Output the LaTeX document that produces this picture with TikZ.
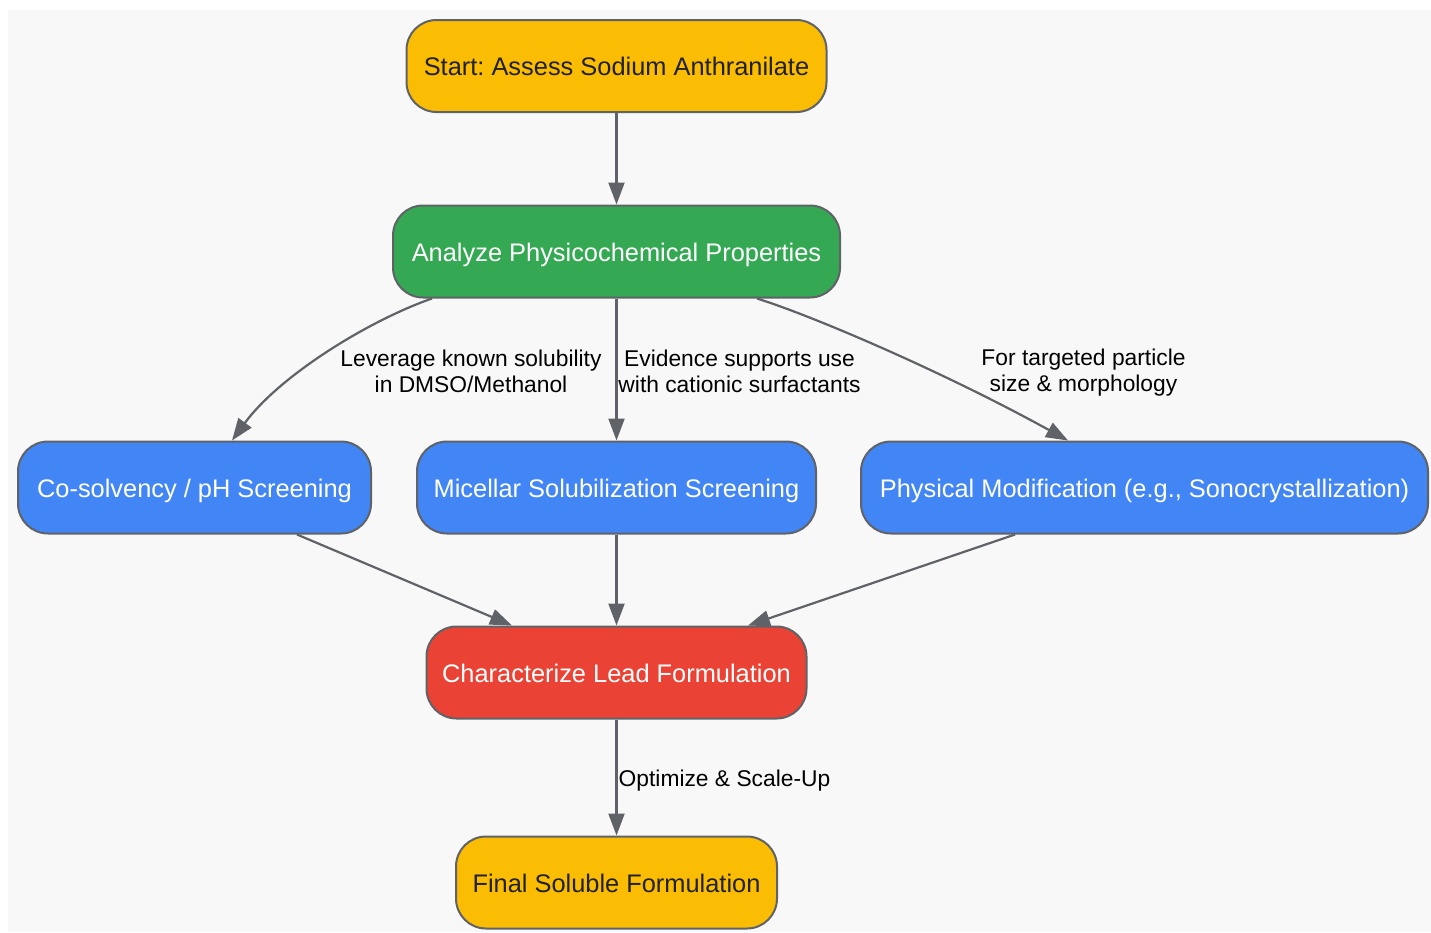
\documentclass[tikz,border=0pt]{standalone}
\usepackage{fontspec}
\setmainfont{Liberation Sans}
\usetikzlibrary{arrows.meta}
\definecolor{bgc}{HTML}{F8F8F8}
\definecolor{edgec}{HTML}{5F6368}
\definecolor{yel}{HTML}{FBBC04}
\definecolor{grn}{HTML}{34A853}
\definecolor{blu}{HTML}{4285F4}
\definecolor{rd}{HTML}{EA4335}
\definecolor{dark}{HTML}{202124}
\frenchspacing
\begin{document}
\begin{tikzpicture}[x=1pt,y=-1pt,
  box/.style={draw=edgec, line width=2pt, rounded corners=30pt, minimum height=92pt, inner sep=0pt, text height=24pt, text depth=5pt, font=\fontsize{25.4}{30}\selectfont},
  ybox/.style={box, fill=yel, text=dark},
  gbox/.style={box, fill=grn, text=white},
  bbox/.style={box, fill=blu, text=white},
  rbox/.style={box, fill=rd, text=white},
  arr/.style={draw=edgec, line width=2.2pt, -{Triangle[length=22pt,width=16pt]}},
  lbl/.style={align=center, text=black, inner sep=0pt, font=\fontsize{22.8}{26}\selectfont}
]
\useasboundingbox (0,0) rectangle (1431,932);
\fill[bgc] (8,10) rectangle (1431,932);

\node[ybox, minimum width=420pt] (start) at (616.5,66) {Start: Assess Sodium Anthranilate};
\node[gbox, minimum width=447pt] (analyze) at (616.5,251.5) {Analyze Physicochemical Properties};
\node[bbox, minimum width=353pt] (cosolv) at (194.5,487.5) {Co-solvency / pH Screening};
\node[bbox, minimum width=399pt] (micellar) at (616.5,487.5) {Micellar Solubilization Screening};
\node[bbox, minimum width=567pt] (phys) at (1144.5,487.5) {Physical Modification (e.g., Sonocrystallization)};
\node[rbox, minimum width=380pt] (charac) at (616.5,672.5) {Characterize Lead Formulation};
\node[ybox, minimum width=321pt] (final) at (616.5,882.5) {Final Soluble Formulation};

\draw[arr] (start) -- (analyze);
\draw[arr] ([xshift=-184.5pt]analyze.south) .. controls (370,320) and (280,375) .. ([xshift=37.5pt]cosolv.north);
\draw[arr] (analyze) -- (micellar);
\draw[arr] ([xshift=140.5pt]analyze.south) .. controls (810,315) and (940,370) .. ([xshift=-76.5pt]phys.north);
\draw[arr] ([xshift=102.5pt]cosolv.south) -- ([xshift=-104.5pt]charac.north);
\draw[arr] (micellar) -- (charac);
\draw[arr] ([xshift=-129.5pt]phys.south) -- ([xshift=131.5pt]charac.north);
\draw[arr] (charac) -- (final);

\node[lbl] (l1) at (471,371) {Leverage known solubility\\in DMSO/Methanol};
\node[lbl] (l2) at (739.5,371) {Evidence supports use\\with cationic surfactants};
\node[lbl] (l3) at (1083.5,373) {For targeted particle\\size \& morphology};
\node[lbl] (l4) at (724.5,781) {Optimize \& Scale-Up};
\end{tikzpicture}
\end{document}
